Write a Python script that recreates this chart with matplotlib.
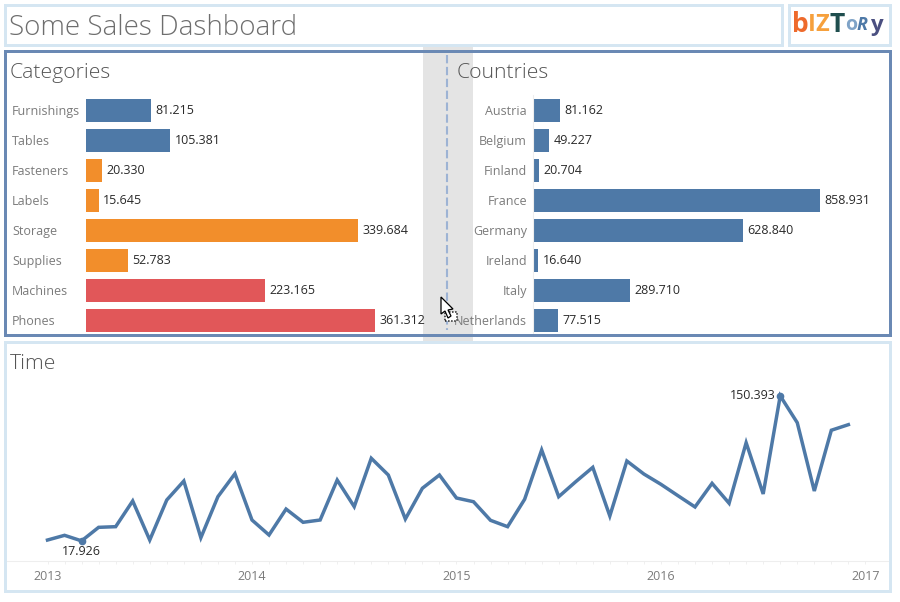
import matplotlib

matplotlib.use("Agg")
import matplotlib.pyplot as plt
from matplotlib.patches import Rectangle, Polygon

W, H = 900, 602

CATEGORIES = ["Furnishings", "Tables", "Fasteners", "Labels", "Storage", "Supplies", "Machines", "Phones"]
CATEGORY_SALES = [81215, 105381, 20330, 15645, 339684, 52783, 223165, 361312]
CATEGORY_GROUP = ["blue", "blue", "orange", "orange", "orange", "orange", "red", "red"]

COUNTRIES = ["Austria", "Belgium", "Finland", "France", "Germany", "Ireland", "Italy", "Netherlands"]
COUNTRY_SALES = [81162, 49227, 20704, 858931, 628840, 16640, 289710, 77515]

MONTHLY_SALES = [
    18700, 23000, 17926, 30300, 30900, 54400, 18700, 55300, 72600, 20800, 58300, 79300,
    37000, 23300, 47000, 34900, 37000, 73500, 49200, 93400, 78100, 37900, 66000, 78100,
    57100, 53700, 36700, 30900, 55900, 101000, 58300, 72000, 85100, 40700, 90900, 79000,
    69600, 59200, 48900, 70500, 52300, 107600, 60800, 150393, 125900, 63500, 119000, 124100,
]
YEARS = ["2013", "2014", "2015", "2016", "2017"]

BLUE = "#4e79a7"
COLORS = {"blue": BLUE, "orange": "#f28e2b", "red": "#e15759"}
LIGHT = "#d5e6f2"
FRAME = "#6a89b4"
GREY = "#7b7b7b"
DARK = "#2a2a2a"

plt.rcParams["font.family"] = ["Open Sans", "DejaVu Sans"]


def fmt_number(x):
    return f"{int(x):,}".replace(",", ".")


def px_axes(fig, left, top, right, bottom):
    # pixel box measured from the top left of the picture
    ax = fig.add_axes([left / W, 1 - bottom / H, (right - left) / W, (bottom - top) / H])
    ax.patch.set_alpha(0)
    for s in ax.spines.values():
        s.set_visible(False)
    return ax


def px_text(fig, x, y, s, **kw):
    kw.setdefault("va", "center")
    return fig.text(x / W, 1 - y / H, s, **kw)


def px_box(fig, left, top, right, bottom, color, lw_px=3, zorder=1):
    fig.add_artist(Rectangle((left / W, 1 - bottom / H), (right - left) / W, (bottom - top) / H,
                             transform=fig.transFigure, fill=False, edgecolor=color,
                             linewidth=lw_px * 0.72, zorder=zorder))


def hbars(ax, labels, values, colors, scale):
    pos = list(range(len(labels)))
    ax.barh(pos, values, height=23 / 30, color=colors)
    ax.set_ylim(len(labels) - 0.5, -0.5)
    ax.set_xlim(0, scale)
    ax.set_yticks(pos)
    ax.set_yticklabels(labels, fontsize=9, color=GREY)
    ax.set_xticks([])
    ax.tick_params(axis="y", length=0)
    for p, v in zip(pos, values):
        ax.annotate(fmt_number(v), (v, p), xytext=(3.2, 0), textcoords="offset points",
                    va="center", fontsize=9, color=DARK, annotation_clip=False)


fig = plt.figure(figsize=(W / 100, H / 100), dpi=100, facecolor="white")

# splitter being dragged, sits behind the frames
fig.add_artist(Rectangle((423 / W, 1 - 343 / H), 50 / W, 299 / H, transform=fig.transFigure,
                         facecolor="#e4e4e4", edgecolor="none", zorder=0))

px_box(fig, 4.5, 4.5, 781.7, 44.5, LIGHT)
px_box(fig, 788.5, 4.5, 890, 44.5, LIGHT)
px_box(fig, 4.5, 50.5, 890, 335.3, FRAME)
px_box(fig, 4.5, 341.5, 890, 590.5, LIGHT)

px_text(fig, 9, 28, "Some Sales Dashboard", fontsize=20, color="#6e6e6e", fontweight="light")
px_text(fig, 10, 73, "Categories", fontsize=15.2, color="#555555", fontweight="light")
px_text(fig, 457, 73, "Countries", fontsize=15.2, color="#555555", fontweight="light")
px_text(fig, 10, 364, "Time", fontsize=15.2, color="#555555", fontweight="light")

# logo
logo = [("b", 792, "#ee6a2c", 19, "normal"), ("I", 808, "#f6a03c", 17, "normal"),
        ("Z", 815, "#f6a03c", 17, "normal"), ("T", 829, "#1f4e4e", 19, "normal"),
        ("o", 845, "#7fa3c7", 14, "normal"), ("R", 857, "#4e79a7", 13, "italic"),
        ("y", 870, "#4a4f80", 16, "normal")]
for letter, x, color, size, style in logo:
    px_text(fig, x, 25, letter, fontsize=size, fontweight="bold", fontstyle=style, color=color, ha="left")

# bars
ax_cat = px_axes(fig, 86, 95, 416, 335)
hbars(ax_cat, CATEGORIES, CATEGORY_SALES, [COLORS[g] for g in CATEGORY_GROUP], 330 / 0.0008)
ax_cat.tick_params(axis="y", pad=0)
for lab in ax_cat.get_yticklabels():
    lab.set_ha("left")
    lab.set_x(-74 / 330)

ax_cty = px_axes(fig, 532.5, 95, 885, 335)
hbars(ax_cty, COUNTRIES, COUNTRY_SALES, BLUE, 352.5 / 0.000335)
ax_cty.tick_params(axis="y", pad=4)
ax_cty.spines["left"].set_visible(True)
ax_cty.spines["left"].set_color("#eeeeee")

# time line
MONTH_PX = 17.04
ax_time = px_axes(fig, 7, 380, 888, 560.5)
months = list(range(len(MONTHLY_SALES)))
ax_time.plot(months, MONTHLY_SALES, color=BLUE, lw=2.5, solid_joinstyle="miter")
ax_time.set_xlim(-40.5 / MONTH_PX, 840.5 / MONTH_PX)
ax_time.set_ylim(0, 180.5 * 913.6)
ax_time.set_yticks([])
ax_time.set_xticks(range(0, 49, 12))
ax_time.set_xticklabels(YEARS, fontsize=9, color=GREY)
ax_time.set_xticks(months, minor=True)
ax_time.tick_params(axis="x", which="both", length=2.5, width=0.6, color="#eeeeee", pad=4.5)
ax_time.spines["bottom"].set_visible(True)
ax_time.spines["bottom"].set_color("#eeeeee")

low = MONTHLY_SALES.index(min(MONTHLY_SALES))
high = MONTHLY_SALES.index(max(MONTHLY_SALES))
ax_time.plot([low, high], [MONTHLY_SALES[low], MONTHLY_SALES[high]], "o", color=BLUE, ms=4.5, clip_on=False)
ax_time.annotate(fmt_number(MONTHLY_SALES[low]), (low, MONTHLY_SALES[low]), xytext=(0, -7.5),
                 textcoords="offset points", ha="center", va="center", fontsize=9, color=DARK)
ax_time.annotate(fmt_number(MONTHLY_SALES[high]), (high, MONTHLY_SALES[high]), xytext=(-3, 0),
                 textcoords="offset points", ha="right", va="center", fontsize=9, color=DARK)

# dashed drop line and mouse cursor on top of everything
fig.add_artist(plt.Line2D([447 / W, 447 / W], [1 - 55 / H, 1 - 330 / H], transform=fig.transFigure,
                          color="#9db3d4", lw=1.5, dashes=(4, 1.7), zorder=5))
fig.add_artist(Rectangle((444.5 / W, 1 - 321 / H), 12 / W, 9 / H, transform=fig.transFigure,
                         facecolor="white", edgecolor="#222222", linewidth=1.1, linestyle=(0, (1, 1)), zorder=6))
arrow = [(441, 297), (441, 314), (445, 311), (448, 318), (451, 316), (448, 310), (453, 309)]
fig.add_artist(Polygon([(x / W, 1 - y / H) for x, y in arrow], closed=True, transform=fig.transFigure,
                       facecolor="white", edgecolor="black", linewidth=0.9, zorder=7))

fig.savefig("out.png", dpi=100)
